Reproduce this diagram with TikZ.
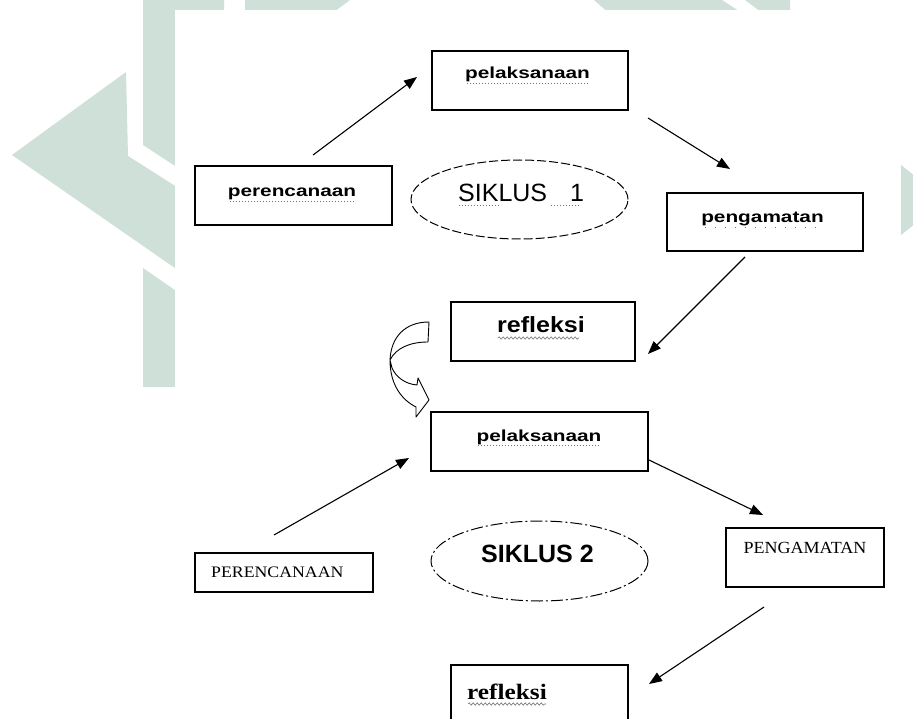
\documentclass[tikz,border=0pt]{standalone}
\usepackage{fontspec}
\usetikzlibrary{arrows.meta,calc,shapes.geometric,decorations.pathmorphing}
\newfontfamily\lblfont[FakeStretch=1.3]{Liberation Sans}
\newfontfamily\reffont[FakeStretch=1.14]{Liberation Sans}
\newfontfamily\sikfont{Liberation Sans}
\newfontfamily\capsfontA[FakeStretch=1.11]{Liberation Serif}
\newfontfamily\capsfontB[FakeStretch=1.06]{Liberation Serif}
\newfontfamily\reftwofont[FakeStretch=1.15]{Liberation Serif}
\definecolor{wm}{RGB}{207,224,216}
\begin{document}
\begin{tikzpicture}[x=1pt,y=-1pt,
  box/.style={draw=black,line width=1.4pt,rectangle,inner sep=0pt},
  oval/.style={draw=black,line width=1pt,ellipse,inner sep=0pt},
  lbl/.style={inner sep=0pt,font=\lblfont\bfseries\fontsize{16}{16}\selectfont},
  arr/.style={draw=black,line width=1.1pt,-{Triangle[length=13pt,width=10pt]}},
  spelld/.style={draw=black!55,line width=0.8pt,dash pattern=on 1pt off 2pt},
  spellw/.style={draw=black!55,line width=0.6pt,decorate,decoration={snake,amplitude=1.2pt,segment length=4pt}},
  blk/.style={draw=black,line width=0.9pt,line join=round}]
\clip (0,0) rectangle (913,719);
\fill[white] (0,0) rectangle (913,719);
% watermark
\fill[wm] (143,0) -- (224,0) -- (224,198) -- (143,145) -- cycle;
\fill[wm] (12,155) -- (126,72) -- (128,156) -- (224,217) -- (224,302) -- cycle;
\fill[wm] (143,268) -- (224,324) -- (224,387) -- (143,387) -- cycle;
\fill[wm] (245,0) -- (350,0) -- (330,15) -- (245,15) -- cycle;
\fill[wm] (594,0) -- (722,0) -- (745,15) -- (611,15) -- cycle;
\fill[wm] (745,0) -- (790,0) -- (790,15) -- (765,15) -- cycle;
\fill[wm] (901,165) -- (945,200) -- (901,235) -- cycle;
% page
\fill[white] (175,10) rectangle (900,719);

% boxes
\node[box,minimum width=196pt,minimum height=59pt] (pel1) at (530,80.5) {};
\node[box,minimum width=197pt,minimum height=59pt] (perenc) at (293.5,195.5) {};
\node[oval,dash pattern=on 9pt off 3pt,minimum width=217pt,minimum height=79pt] (sik1) at (519.5,199.5) {};
\node[box,minimum width=196pt,minimum height=58pt] (peng) at (765,222) {};
\node[box,minimum width=184pt,minimum height=59pt] (ref1) at (543,331.5) {};
\node[box,minimum width=217pt,minimum height=59pt] (pel2) at (539.5,441.5) {};
\node[box,minimum width=178pt,minimum height=39pt] (perenc2) at (284,572.5) {};
\node[oval,dash pattern=on 12pt off 3pt on 2pt off 3pt,minimum width=217pt,minimum height=80pt] (sik2) at (539.5,561) {};
\node[box,minimum width=158pt,minimum height=59pt] (peng2) at (805,557.5) {};
\node[box,minimum width=177pt,minimum height=60pt] (ref2) at (539.5,695) {};

% texts
\node[lbl,anchor=base] (tpel1) at (527.5,79) {pelaksanaan};
\node[lbl,anchor=base] (tperenc) at (292,197) {perencanaan};
\node[inner sep=0pt,anchor=base west,font=\sikfont\fontsize{25}{25}\selectfont] (tsik1) at (458,202) {SIKLUS\hspace{23pt}1};
\node[lbl,anchor=base] (tpeng) at (762.5,223) {pengamatan};
\node[inner sep=0pt,anchor=base,font=\reffont\bfseries\fontsize{22}{22}\selectfont] (tref1) at (541,333) {refleksi};
\node[lbl,anchor=base] (tpel2) at (539,441) {pelaksanaan};
\node[inner sep=0pt,anchor=base west,font=\capsfontA\fontsize{16}{16}\selectfont] (tperenc2) at (211,577) {PERENCANAAN};
\node[inner sep=0pt,anchor=base west,font=\sikfont\bfseries\fontsize{25}{25}\selectfont] (tsik2) at (481,562) {SIKLUS 2};
\node[inner sep=0pt,anchor=base,font=\capsfontB\fontsize{17}{17}\selectfont] (tpeng2) at (805,553) {PENGAMATAN};
\node[inner sep=0pt,anchor=base west,font=\reftwofont\bfseries\fontsize{22}{22}\selectfont] (tref2) at (467,699) {refleksi};

% spelling marks
\draw[spelld] ($(tpel1.base west)+(2,4.5)$) -- ($(tpel1.base east)+(-2,4.5)$);
\draw[spelld] ($(tperenc.base west)+(2,4.5)$) -- ($(tperenc.base east)+(-2,4.5)$);
\draw[spelld] ($(tsik1.base west)+(1,3.5)$) -- ++(42,0);
\draw[spelld] ($(tsik1.base west)+(93,3.5)$) -- ++(30,0);
\draw[spelld,dash pattern=on 1pt off 9pt] ($(tpeng.base west)+(4,4.5)$) -- ($(tpeng.base east)+(-2,4.5)$);
\draw[spellw] ($(tref1.base west)+(1,5)$) -- ($(tref1.base east)+(-6,5)$);
\draw[spelld] ($(tpel2.base west)+(2,4.5)$) -- ($(tpel2.base east)+(-2,4.5)$);
\draw[spellw] ($(tref2.base west)+(1,5)$) -- ($(tref2.base east)+(-1,5)$);

% connectors
\draw[arr] ($(perenc.center)+(19.5,-40.5)$) -- ($(pel1.center)+(-113,-3.5)$);
\draw[arr] ($(pel1.center)+(118,37.5)$) -- ($(peng.center)+(-35,-53)$);
\draw[arr] ($(peng.center)+(-20,35)$) -- ($(ref1.center)+(105,22.5)$);
\draw[arr] ($(perenc2.center)+(-10,-37.5)$) -- ($(pel2.center)+(-130.5,16.5)$);
\draw[arr] ($(pel2.center)+(109.5,18.5)$) -- ($(peng2.center)+(-42,-42.5)$);
\draw[arr] ($(peng2.center)+(-41,49.5)$) -- ($(ref2.center)+(109.5,-11)$);

% curved block arrow from refleksi to pelaksanaan
\draw[blk] (429,322) .. controls (405,322) and (391,337) .. (390,360)
  .. controls (390,385) and (402,400) .. (416,407)
  -- (416,417) -- (429,400) -- (418,378) -- (417,385)
  .. controls (405,384) and (396,377) .. (392,368)
  -- (390,360)
  .. controls (396,348) and (410,342) .. (428,342) -- cycle;
\end{tikzpicture}
\end{document}
